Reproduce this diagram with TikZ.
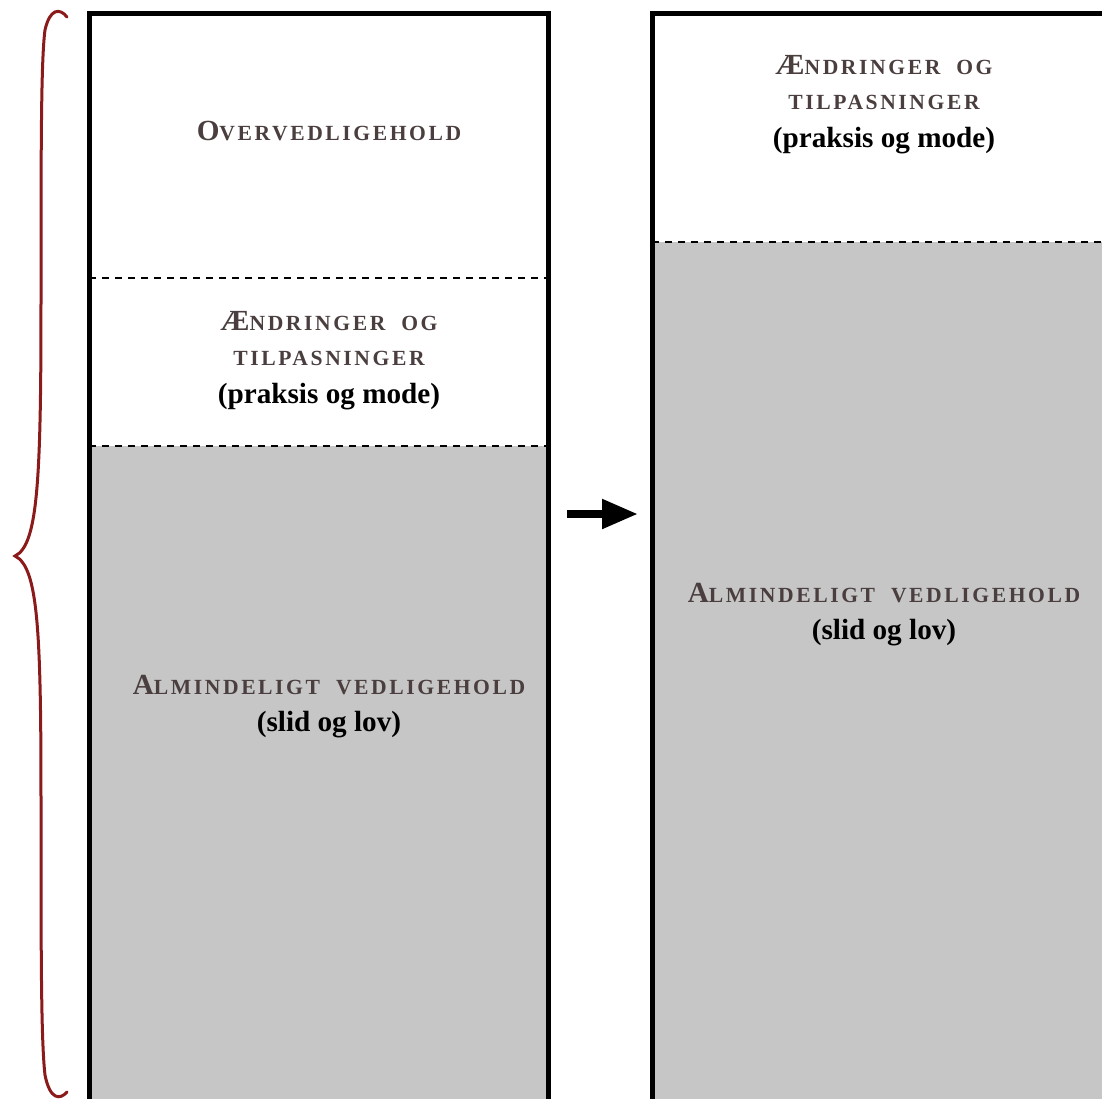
\documentclass[tikz,border=0pt]{standalone}
\usepackage{fontspec}
\setmainfont{Liberation Serif}
\newfontfamily\capsfont[LetterSpace=12]{Liberation Serif}
\usetikzlibrary{arrows.meta}

\definecolor{capbrown}{RGB}{74,62,62}
\definecolor{wallgrey}{RGB}{198,198,198}
\definecolor{bracered}{RGB}{139,26,26}

% fake small caps: first letter big, rest small
\newcommand{\scword}[2]{{\fontsize{14.6}{17.5}\selectfont #1}{\fontsize{10.8}{17.5}\selectfont #2}}
\newcommand{\plainpart}[1]{{\normalfont\bfseries\color{black}\fontsize{14.6}{17.5}\selectfont #1}}

\begin{document}
\begin{tikzpicture}
    [x=0.5pt,y=-0.5pt,
     heading/.style={font=\capsfont\bfseries\fontsize{14.6}{17.5}\selectfont,text=capbrown,align=center,inner sep=0pt},
     wall/.style={line width=2.5pt,line join=miter},
     split/.style={line width=1pt,dash pattern=on 3.5pt off 3pt},
     shift arrow/.style={line width=4pt,-{Triangle[length=18pt,width=14pt]}},
     span brace/.style={bracered,line width=1.5pt,line cap=round}]
    \useasboundingbox (0,0) rectangle (1102,1098);
    \clip (0,0) rectangle (1102,1098);
    % left column
    \fill[wallgrey] (89,446) rectangle (548,1110);
    \draw[wall] (89,1110) |- (548,13) -- (548,1110);
    \draw[split] (89,278) -- (548,278);
    \draw[split] (89,446) -- (548,446);
    % right column
    \fill[wallgrey] (652,242) rectangle (1111,1110);
    \draw[wall] (652,1110) |- (1111,13) -- (1111,1110);
    \draw[split] (652,242) -- (1111,242);
    % texts
    \node[heading] (over) at (329,131) {\scword{O}{VERVEDLIGEHOLD}};
    \node[heading] (aendrL) at (329,361) {\scword{Æ}{NDRINGER\ \ OG}\\\scword{}{TILPASNINGER}\\[1.5pt]\plainpart{(praksis og mode)}};
    \node[heading] (almL) at (329,707) {\scword{A}{LMINDELIGT\ \ VEDLIGEHOLD}\\[1pt]\plainpart{(slid og lov)}};
    \node[heading] (aendrR) at (884,105) {\scword{Æ}{NDRINGER\ \ OG}\\\scword{}{TILPASNINGER}\\[1.5pt]\plainpart{(praksis og mode)}};
    \node[heading] (almR) at (884,615) {\scword{A}{LMINDELIGT\ \ VEDLIGEHOLD}\\[1pt]\plainpart{(slid og lov)}};
    % arrow between columns
    \coordinate (from) at (567,514);
    \coordinate (to) at (638,514);
    \draw[shift arrow] (from) -- (to);
    % brace
    \coordinate (tip) at (15,556);
    \draw[span brace] (67,17) .. controls (60,8) and (50,8) .. (45,30)
        .. controls (41,60) and (41,150) .. (41,300)
        .. controls (41,480) and (38,545) .. (tip)
        .. controls (38,567) and (41,630) .. (41,800)
        .. controls (41,950) and (41,1040) .. (45,1075)
        .. controls (50,1100) and (60,1100) .. (67,1092);
\end{tikzpicture}
\end{document}
